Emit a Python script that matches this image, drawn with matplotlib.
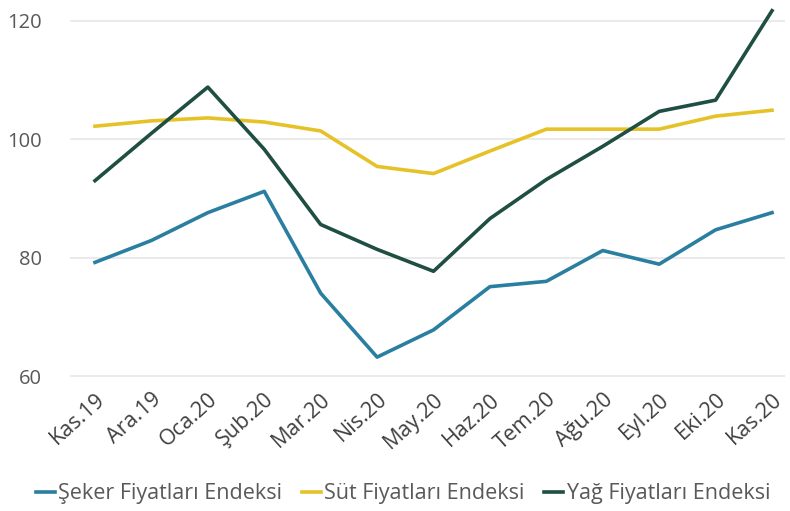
import matplotlib
matplotlib.use("Agg")
import matplotlib.pyplot as plt

months = ["Kas.19", "Ara.19", "Oca.20", "Şub.20", "Mar.20", "Nis.20", "May.20",
          "Haz.20", "Tem.20", "Ağu.20", "Eyl.20", "Eki.20", "Kas.20"]
seker = [79.2, 82.9, 87.6, 91.2, 74.0, 63.2, 67.8, 75.1, 76.0, 81.2, 78.9, 84.7, 87.6]
sut = [102.2, 103.1, 103.6, 102.9, 101.4, 95.4, 94.2, 98.0, 101.7, 101.7, 101.7, 103.9, 104.9]
yag = [93.0, 101.0, 108.8, 98.3, 85.6, 81.4, 77.7, 86.6, 93.2, 98.8, 104.7, 106.6, 121.7]
yticks = [60, 80, 100, 120]

plt.rcParams['font.family'] = ['Open Sans', 'DejaVu Sans']
txt = '#595959'

fig = plt.figure(figsize=(7.9, 5.11), dpi=100)
ax = fig.add_axes([70/790, 129/511, 715/790, 376/511])
x = list(range(len(months)))
ax.plot(x, seker, color='#2a7fa0', lw=2.6, label='Şeker Fiyatları Endeksi')
ax.plot(x, sut, color='#e6c229', lw=2.6, label='Süt Fiyatları Endeksi')
ax.plot(x, yag, color='#1f4e42', lw=2.6, label='Yağ Fiyatları Endeksi')

ax.set_xlim(-0.443, 12.23)
ax.set_ylim(59, 122.5)
ax.set_yticks(yticks)
ax.set_yticklabels([str(v) for v in yticks], color=txt, fontsize=14.5)
ax.set_xticks(x)
ax.set_xticklabels(months, rotation=42, ha='right', va='top', rotation_mode='anchor',
                   color='#404040', fontsize=15.5)
ax.tick_params(axis='both', length=0)
ax.tick_params(axis='y', pad=20)
ax.tick_params(axis='x', pad=5)
for s in ax.spines.values():
    s.set_visible(False)
ax.grid(axis='y', color='#e6e6e6', lw=1.2)
ax.set_axisbelow(True)

leg = fig.legend(loc='center', bbox_to_anchor=(0.51, 1 - 494/511), ncol=3, frameon=False,
                 fontsize=15.5, handlelength=0.9, handletextpad=0.15, columnspacing=0.9)
for t in leg.get_texts():
    t.set_color(txt)

fig.savefig('out.png', dpi=100)
